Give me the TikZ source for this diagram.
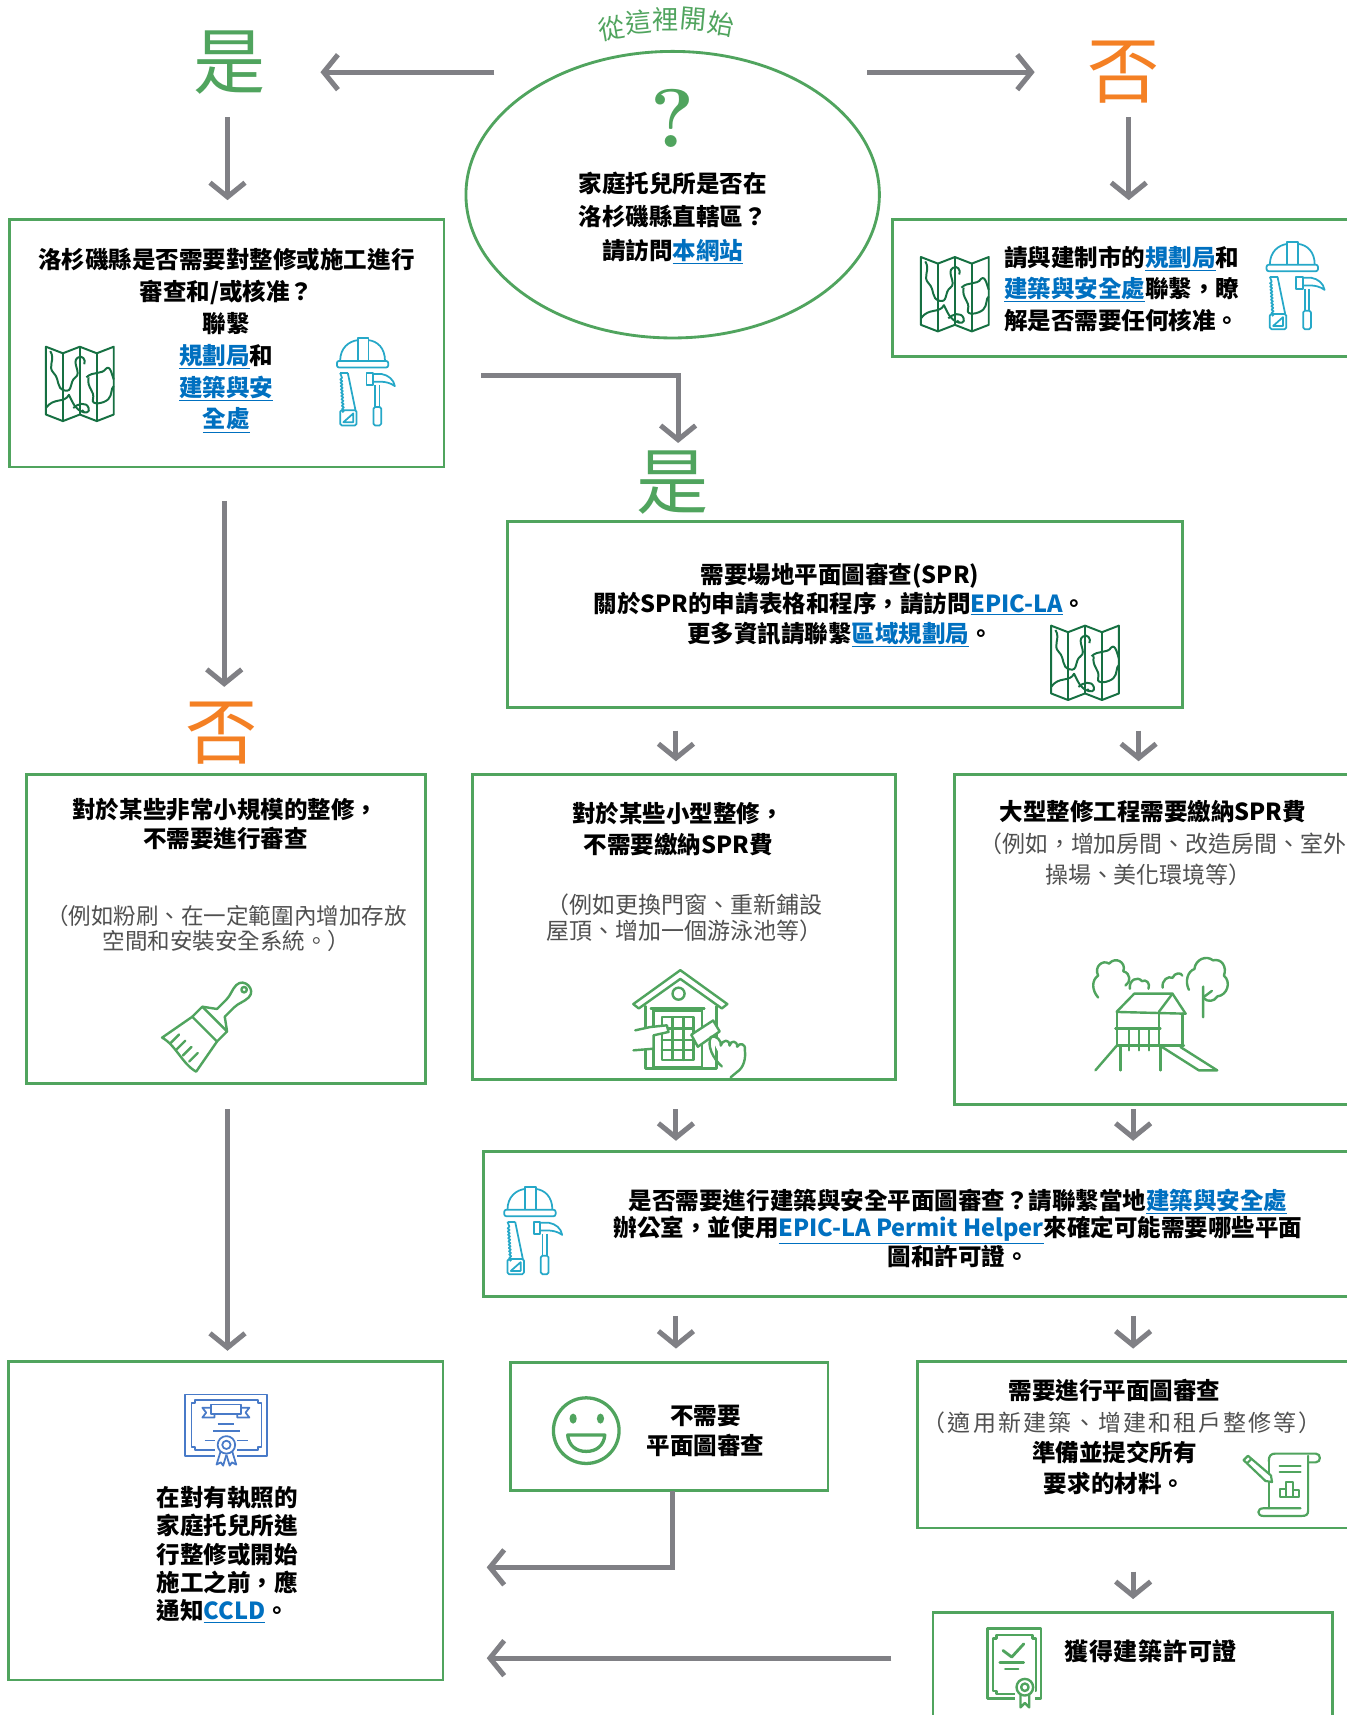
\documentclass[tikz,border=0pt]{standalone}
\usepackage{fontspec}
\newfontfamily\cjk{Noto Sans CJK TC}
\usetikzlibrary{arrows.meta,shapes.geometric,calc}
\definecolor{boxgreen}{RGB}{80,164,94}
\definecolor{arrowgray}{RGB}{128,128,133}
\definecolor{linkblue}{RGB}{0,112,192}
\definecolor{mapgreen}{RGB}{22,112,66}
\definecolor{toolcyan}{RGB}{38,168,200}
\definecolor{certblue}{RGB}{72,122,200}
\definecolor{notegray}{RGB}{80,80,80}
\definecolor{noorange}{RGB}{244,128,36}
\newcommand\lnk[1]{\textcolor{linkblue}{\underline{#1}}}

% folded map icon, centred on #1
\newcommand\mapicon[1]{%
\begin{scope}[shift={#1}, draw=mapgreen, line width=1.8pt, line join=round]
\draw (-31,-34) -- (-15.5,-28) -- (0,-34) -- (15.5,-28) -- (31,-34) -- (31,28) -- (15.5,34) -- (0,28) -- (-15.5,34) -- (-31,28) -- cycle;
\draw (-15.5,-28) -- (-15.5,34) (0,-34) -- (0,28) (15.5,-28) -- (15.5,34);
\draw (-27,-30) .. controls (-22,-22) and (-30,-16) .. (-24,-10) .. controls (-18,-4) and (-22,4) .. (-14,6) .. controls (-6,8) and (-10,-2) .. (-4,-6) .. controls (2,-10) and (-8,-20) .. (-2,-24) .. controls (2,-27) and (6,-22) .. (4,-18);
\draw (-31,22) .. controls (-24,12) and (-14,18) .. (-10,10) .. controls (-6,18) and (-4,24) .. (4,26);
\draw (-6,22) .. controls (-2,18) and (6,16) .. (8,22) .. controls (10,26) and (4,28) .. (2,24);
\draw (6,-6) .. controls (12,-12) and (20,-8) .. (24,-14) .. controls (28,-18) and (30,-6) .. (31,-4);
\draw (8,-6) .. controls (6,4) and (14,6) .. (12,14) .. controls (10,20) and (22,18) .. (26,14) .. controls (30,10) and (28,4) .. (31,2);
\end{scope}}

% helmet, saw and hammer icon, centred on #1
\newcommand\toolicon[1]{%
\begin{scope}[shift={#1}, draw=toolcyan, line width=1.6pt, line join=round]
\draw (-24,-20) .. controls (-24,-32) and (-16,-38) .. (-8,-39);
\draw (2,-39) .. controls (10,-38) and (17,-32) .. (17,-20);
\draw (-8,-20) -- (-8,-41) -- (2,-41) -- (2,-20);
\draw[rounded corners=2] (-27,-20) rectangle (20,-14);
% saw
\draw (-17,-9) -- (-10,25);
\draw (-24,-9) -- (-17,-9);
\draw (-24,-9) \foreach \k in {1,...,11} {-- (-22.5+0.18*\k,-7.5+3*\k) -- (-24+0.18*\k,-6+3*\k)};
\draw[rounded corners=1.5] (-24,25) rectangle (-9,39);
\draw (-21,36) -- (-12,28) -- (-12,36) -- cycle;
% hammer
\draw (0,-9) rectangle (6,2);
\draw (6,-8) -- (14,-8) .. controls (20,-7) and (25,-3) .. (26,3) .. controls (22,0) and (17,-1) .. (13,-1) -- (6,-1);
\draw (8,2) -- (8,22) (12,2) -- (12,22);
\draw[rounded corners=1.5] (6.5,22) rectangle (13.5,39);
\end{scope}}

\begin{document}
\begin{tikzpicture}[x=1pt,y=-1pt,
  box/.style={draw=boxgreen,line width=2.6pt,anchor=north west,inner sep=0pt,outer sep=0pt},
  arr/.style={draw=arrowgray,line width=4.6pt,-{Straight Barb[length=13pt,width=32pt]}},
  bt/.style={font=\fontsize{21.5}{#1}\selectfont\cjk\bfseries,align=center,inner sep=0pt},
  bt/.default=29,
  gt/.style={font=\fontsize{21}{#1}\selectfont\cjk,text=notegray,align=center,inner sep=0pt},
  gt/.default=24,
  big/.style={font=\fontsize{66}{66}\selectfont\cjk,inner sep=0pt},
  icon/.style={draw=boxgreen,line width=2.2pt,line join=round,line cap=round},
]
\useasboundingbox (0,0) rectangle (1231,1568);
\fill[white] (0,0) rectangle (1231,1568);

% ---------- start: question ellipse ----------
\foreach \ch/\x/\y/\r [count=\i] in {從/559/26/10,這/584/20/5,裡/609/18/0,開/634/18/-5,始/659/22/-10}
  \node[font=\fontsize{24}{24}\selectfont\cjk,text=boxgreen,rotate=\r,inner sep=0pt] (start\i) at (\x,\y) {\ch};
\node[draw=boxgreen,line width=2.6pt,ellipse,minimum width=378,minimum height=262,inner sep=0pt] (q) at (615,178) {};
\node[font=\fontsize{76}{76}\selectfont\bfseries,text=boxgreen,inner sep=0pt] (qmark) at (615,108) {?};
\node[bt=30.5] (qtext) at (615,199) {家庭托兒所是否在\\洛杉磯縣直轄區？\\請訪問\lnk{本網站}};

% ---------- yes / no labels ----------
\node[big,text=boxgreen] (yes1) at (210,57) {是};
\node[big,text=noorange] (no1) at (1027,66) {否};
\node[big,text=boxgreen] (yes2) at (615,441) {是};
\node[big,text=noorange] (no2) at (203,670) {否};

% ---------- boxes ----------
\node[box,minimum width=397,minimum height=226] (b1) at (9,201) {};
\node[box,minimum width=430,minimum height=125] (b2) at (816,201) {};
\node[box,minimum width=617,minimum height=170] (b3) at (464,477) {};
\node[box,minimum width=365,minimum height=283] (b4) at (24,708) {};
\node[box,minimum width=387,minimum height=279] (b5) at (432,708) {};
\node[box,minimum width=370,minimum height=302] (b6) at (873,708) {};
\node[box,minimum width=800,minimum height=132] (b7) at (442,1053) {};
\node[box,minimum width=397,minimum height=291] (b8) at (8,1245) {};
\node[box,minimum width=290,minimum height=117] (b9) at (467,1246) {};
\node[box,minimum width=405,minimum height=152] (b10) at (839,1245) {};
\node[box,minimum width=365,minimum height=120] (b11) at (853,1474) {};

% ---------- texts ----------
\node[bt=29.2] (t1) at (207,311) {洛杉磯縣是否需要對整修或施工進行\\審查和/或核准？\\聯繫\\\lnk{規劃局}和\\\lnk{建築與安}\\\lnk{全處}};
\node[bt,align=left,anchor=west] (t2) at (918,264) {請與建制市的\lnk{規劃局}和\\\lnk{建築與安全處}聯繫，瞭\\解是否需要任何核准。};
\node[bt=27] (t3) at (768,553) {需要場地平面圖審查(SPR)\\關於SPR的申請表格和程序，請訪問\lnk{EPIC-LA}。\\更多資訊請聯繫\lnk{區域規劃局}。};
\node[bt=27] (t4a) at (206,753.5) {對於某些非常小規模的整修，\\不需要進行審查};
\node[gt=23,font=\fontsize{20.6}{23}\selectfont\cjk] (t4b) at (207,848.5) {（例如粉刷、在一定範圍內增加存放\\空間和安裝安全系統。）};
\node[bt=28] (t5a) at (620,758) {對於某些小型整修，\\不需要繳納SPR費};
\node[gt=24] (t5b) at (626,839) {（例如更換門窗、重新鋪設\\屋頂、增加一個游泳池等）};
\node[bt] (t6a) at (1054,742) {大型整修工程需要繳納SPR費};
\node[gt,anchor=west] (t6b) at (895,771) {（例如，增加房間、改造房間、室外};
\node[gt] (t6c) at (1050,800) {操場、美化環境等）};
\node[bt=25] (t7) at (876,1123) {是否需要進行建築與安全平面圖審查？請聯繫當地\lnk{建築與安全處}\\辦公室，並使用\lnk{EPIC-LA Permit Helper}來確定可能需要哪些平面\\圖和許可證。};
\node[bt=26,align=left,anchor=west] (t8) at (143,1421) {在對有執照的\\家庭托兒所進\\行整修或開始\\施工之前，應\\通知\lnk{CCLD}。};
\node[bt=27] (t9) at (645,1308.5) {不需要\\平面圖審查};
\node[bt] (t10a) at (1019,1271) {需要進行平面圖審查};
\node[gt,font=\fontsize{21}{24}\selectfont\cjk\addfontfeature{LetterSpace=9}] (t10b) at (1026,1301) {（適用新建築、增建和租戶整修等）};
\node[bt=28] (t10c) at (1019,1342) {準備並提交所有\\要求的材料。};
\node[bt,font=\fontsize{22}{26}\selectfont\cjk\bfseries\addfontfeature{LetterSpace=3}] (t11) at (1052,1510) {獲得建築許可證};

% ---------- connectors ----------
\coordinate (qWest) at (452,66);   \coordinate (yesTip) at (293,66);
\coordinate (qEast) at (793,66);   \coordinate (noTip) at (946,66);
\coordinate (yesFoot) at (208,107); \coordinate (noFoot) at (1032,107);
\coordinate (elbowStart) at (440,343); \coordinate (yes2Top) at (620,405);
\coordinate (no2Top) at (205,628);
\coordinate (x208) at (208,0); \coordinate (x615) at (615,0);
\coordinate (x618) at (618,0); \coordinate (x1036) at (1036,0); \coordinate (x1041) at (1041,0);
\coordinate (y1433) at (0,1433); \coordinate (y1516) at (0,1516);

\draw[arr] (qWest) -- (yesTip);
\draw[arr] (qEast) -- (noTip);
\draw[arr,shorten >=18pt] (yesFoot) -- (b1.north -| yesFoot);
\draw[arr,shorten >=18pt] (noFoot) -- (b2.north -| noFoot);
\draw[arr] (elbowStart) -| (yes2Top);
\draw[arr,shorten <=31pt] (b1.south -| no2Top) -- (no2Top);
\draw[arr,shorten <=21pt,shorten >=12pt] (b3.south -| x618) -- (b5.north -| x618);
\draw[arr,shorten <=21pt,shorten >=12pt] (b3.south -| x1041) -- (b6.north -| x1041);
\draw[arr,shorten <=23pt,shorten >=10pt] (b4.south -| x208) -- (b8.north -| x208);
\draw[arr,shorten <=27pt,shorten >=10pt] (b5.south -| x618) -- (b7.north -| x618);
\draw[arr,shorten <=4pt,shorten >=10pt] (b6.south -| x1036) -- (b7.north -| x1036);
\draw[arr,shorten <=18pt,shorten >=13pt] (b7.south -| x618) -- (b9.north -| x618);
\draw[arr,shorten <=18pt,shorten >=12pt] (b7.south -| x1036) -- (b10.north -| x1036);
\draw[arr,shorten <=40pt,shorten >=12pt] (b10.south -| x1036) -- (b11.north -| x1036);
\draw[arr] (b9.south -| x615) |- ([xshift=40pt]b8.east |- y1433);
\draw[arr,shorten <=38pt,shorten >=40pt] (b11.west |- y1516) -- (b8.east |- y1516);

% ---------- icons ----------
\mapicon{(73,351)}
\toolicon{(335,350)}
\mapicon{(873,269)}
\toolicon{(1185,262)}
\mapicon{(992,606)}
\toolicon{(488,1126)}

% paint brush
\begin{scope}[shift={(226,902)},rotate=-45,icon]
\draw (-5,34) -- (-5,22) .. controls (-5,16) and (-8,12) .. (-8,6) .. controls (-8,-4) and (8,-4) .. (8,6) .. controls (8,12) and (5,16) .. (5,22) -- (5,34);
\draw (0,4) circle (2.5);
\draw (-5,34) -- (-16,42) (5,34) -- (16,42);
\draw (-16,42) rectangle (16,55);
\draw (-16,55) -- (-22,88) .. controls (-8,84) and (8,92) .. (22,88) -- (16,55);
\foreach \u in {-13,-5,3,11} \draw (\u,86) -- (\u,75);
\end{scope}

% house being repaired
\begin{scope}[icon]
\draw (579,918) -- (622,887) -- (665,918) -- (660,922) -- (622,895) -- (584,922) -- cycle;
\draw (590,920) -- (590,977) -- (655,977) -- (655,920);
\draw (620.4,908.5) circle (5.5);
\draw (595,922) -- (644,922);
\draw (597.5,924) rectangle (641.7,975.6);
\draw (605,930) rectangle (634,969);
\draw (615,930) -- (615,969) (625,930) -- (625,969);
\draw (605,940.5) -- (634,940.5) (605,951) -- (634,951) (605,960) -- (634,960);
\draw[fill=white] (580.8,942) -- (594.5,939) -- (609.7,937.4) -- (611.2,943.5) -- (597.5,946.6) -- (597.5,958.8) -- (579.2,960.3);
\draw[fill=white] (632,946) -- (652,933) -- (658,943) -- (638,957) -- cycle;
\draw[fill=white] (650,948) .. controls (655,946) and (660,952) .. (659,956) .. controls (661,950) and (667,950) .. (667,956) .. controls (668,951) and (674,951) .. (674,957) .. controls (676,953) and (682,954) .. (681,960) .. controls (682,968) and (680,976) .. (674,980) -- (668,985);
\draw (650,948) .. controls (646,956) and (652,968) .. (660,975);
\end{scope}

% playground with trees
\begin{scope}[icon]
\draw (1004,912) .. controls (998,905) and (998,896) .. (1004,892) .. controls (1000,884) and (1008,877) .. (1014,881) .. controls (1020,874) and (1030,880) .. (1027,888) .. controls (1034,890) and (1034,898) .. (1029,901);
\draw (1033,904) .. controls (1032,896) and (1040,892) .. (1044,897) .. controls (1048,895) and (1052,899) .. (1050,904);
\draw (1063,903) .. controls (1062,896) and (1068,892) .. (1072,894) .. controls (1074,889) and (1080,889) .. (1081,892);
\draw (1087,905) .. controls (1083,897) and (1086,888) .. (1092,886) .. controls (1093,877) and (1103,873) .. (1109,878) .. controls (1117,876) and (1122,884) .. (1119,892) .. controls (1126,898) and (1122,910) .. (1113,911) .. controls (1110,916) and (1104,916) .. (1101,913);
\draw (1100,902) -- (1100,930) (1100,912) -- (1108,906);
\draw (1021,925) -- (1037,908.5) -- (1072,908.5) -- (1084,926.8);
\draw (1072,908.5) -- (1059.5,925.2);
\draw (1021,925.2) -- (1084,926.8);
\draw (1021.3,925) -- (1021.3,955.7) (1059.5,925) -- (1059.5,955.7) (1081,926.8) -- (1081,955.7);
\draw (1019.8,940.5) -- (1061,940.5);
\foreach \bx in {1032,1041.2,1050.3} \draw (\bx,940.5) -- (\bx,960.3);
\draw (1021.3,955.7) -- (1082.4,955.7);
\draw (1024.4,955.7) -- (1024.4,978.6) (1061,955.7) -- (1061,978.6);
\draw (1021.3,955.7) -- (1001.5,978.6);
\draw (1062.5,957.3) -- (1096.1,978.6) -- (1112.9,978.6) -- (1079.3,957.3);
\end{scope}

% licence certificate
\begin{scope}[draw=certblue,line width=1.6pt,line join=round]
\draw (169,1275) rectangle (244,1331);
\draw (178,1280) -- (236,1280) -- (236,1283) -- (239,1283) -- (239,1323) -- (236,1323) -- (236,1326) -- (178,1326) -- (178,1323) -- (175,1323) -- (175,1283) -- (178,1283) -- cycle;
\draw (193,1284) rectangle (220,1293);
\draw (193,1287) -- (185,1287) -- (188.5,1291.5) -- (185,1296) -- (196,1296) -- (196,1293);
\draw (220,1287) -- (228,1287) -- (224.5,1291.5) -- (228,1296) -- (217,1296) -- (217,1293);
\draw (199,1302) -- (214,1302) (195,1308) -- (219,1308);
\draw (187,1317) -- (198,1317) (216,1317) -- (227,1317);
\fill[white] (197,1312) rectangle (217,1334);
\draw (202,1326) -- (198,1339) -- (202,1337) -- (204,1340) -- (207,1330);
\draw (212,1326) -- (216,1339) -- (212,1337) -- (210,1340) -- (207,1330);
\draw[fill=white] (207,1321) circle (8);
\draw (207,1321) circle (3.8);
\end{scope}

% smiling face
\begin{scope}[draw=boxgreen,line width=3pt]
\draw (536,1308) circle (30);
\fill[boxgreen] (524,1297) ellipse (3.3 and 4.6);
\fill[boxgreen] (549,1297) ellipse (3.3 and 4.6);
\draw[line join=round] (519,1312) -- (553,1312) .. controls (552,1322) and (545,1327) .. (536,1327) .. controls (527,1327) and (520,1322) .. (519,1312) -- cycle;
\end{scope}

% plan document with pencil
\begin{scope}[icon,line width=2pt]
\draw (1160,1336) -- (1160,1379);
\draw (1160,1336) .. controls (1160,1331) and (1162,1329) .. (1166,1329) -- (1203,1329) .. controls (1208,1329) and (1208,1337) .. (1203,1337) -- (1196,1337);
\draw (1196,1331) -- (1196,1381) .. controls (1196,1385) and (1194,1386) .. (1190,1386) -- (1155,1386) .. controls (1149,1386) and (1149,1379) .. (1155,1379) -- (1189,1379);
\draw (1170,1340) -- (1189,1340) (1170,1346) -- (1189,1346);
\draw (1170,1361) rectangle (1176,1369) (1176,1355) rectangle (1182,1369) (1182,1362) rectangle (1188,1369);
\draw[fill=white] (1137,1335) -- (1141,1331) -- (1162,1349) -- (1163,1355) -- (1157,1354) -- cycle;
\draw (1140,1338) -- (1144,1334);
\end{scope}

% building permit certificate
\begin{scope}[icon,line width=2.2pt]
\draw (903,1489) rectangle (952,1553);
\draw (911,1495) -- (944,1495) -- (944,1498) -- (947,1498) -- (947,1546) -- (944,1546) -- (944,1549) -- (911,1549) -- (911,1546) -- (908,1546) -- (908,1498) -- (911,1498) -- cycle;
\draw[line width=2.6pt] (917,1509) -- (925,1515) -- (936,1503);
\draw (914,1520) -- (936,1520) (919,1526) -- (931,1526);
\fill[white] (928,1536) rectangle (946,1556);
\draw (933,1548) -- (933,1561) -- (937,1557) -- (941,1561) -- (941,1548);
\draw[fill=white] (937,1542.6) circle (7.6);
\draw (937,1542.6) circle (3.4);
\end{scope}
\end{tikzpicture}
\end{document}
